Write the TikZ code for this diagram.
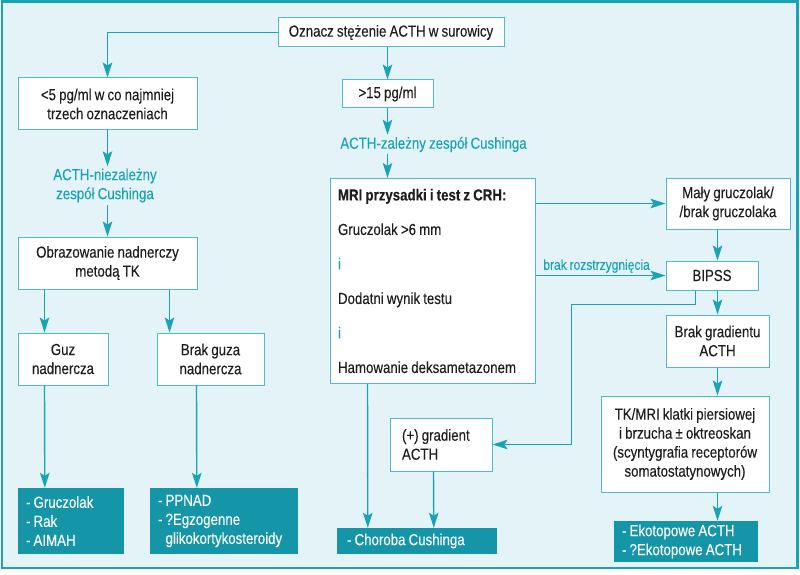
\documentclass[tikz,border=0pt]{standalone}
\usepackage{fontspec}
\setmainfont{Liberation Sans}[FakeStretch=0.83, WordSpace=0.85, FakeBold=0.2]
\usetikzlibrary{arrows.meta}
\definecolor{acthteal}{RGB}{26,163,181}
\definecolor{acthfill}{RGB}{21,150,168}
\definecolor{acthbg}{RGB}{228,243,247}
\definecolor{acthline}{RGB}{80,185,202}
\definecolor{acthtext}{RGB}{30,30,30}

\begin{document}
\begin{tikzpicture}[x=1pt,y=-1pt,>={Stealth[length=15pt,width=9.5pt,inset=3pt]},
    every node/.style={font=\fontsize{16}{19}\selectfont, text=acthtext,
        execute at begin node={\spaceskip=0pt\xspaceskip=0pt}},
    box/.style={draw=acthline, line width=1pt, fill=white, align=center, inner sep=0pt},
    outbox/.style={fill=acthfill, text=white, align=left, inner xsep=8pt, inner ysep=0pt},
    teallabel/.style={text=acthteal, align=center, inner sep=2pt},
    flow/.style={->, draw=acthteal, line width=1.4pt}]
    \useasboundingbox (0,0) rectangle (800,575);
    \fill[white] (0,0) rectangle (800,575);
    \filldraw[fill=acthbg, draw=acthteal, line width=2.5pt] (2,1.5) rectangle (797.5,568);

    \node [box, minimum width=226, minimum height=29] (top) at (391,32.5) {Oznacz stężenie ACTH w surowicy};

    \node [box, minimum width=179, minimum height=52] (low) at (107.5,104) {<5 pg/ml w co najmniej\\trzech oznaczeniach};
    \node [teallabel] (lbl1) at (105,185.5) {ACTH-niezależny\\zespół Cushinga};
    \node [box, minimum width=179, minimum height=52] (obraz) at (107.5,263) {Obrazowanie nadnerczy\\metodą TK};
    \node [box, minimum width=90, minimum height=52] (guz) at (63,359) {Guz\\nadnercza};
    \node [box, minimum width=107, minimum height=52] (brakguza) at (210.5,359) {Brak guza\\nadnercza};
    \node [outbox, text width=90, minimum height=66] (f1) at (71,521) {- Gruczolak\\- Rak\\- AIMAH};
    \node [outbox, text width=132, minimum height=66] (f2) at (224,521) {- PPNAD\\- ?Egzogenne\\\hphantom{-\ }glikokortykosteroidy};

    \node [box, minimum width=91, minimum height=28] (high) at (387.5,94) {>15 pg/ml};
    \node [teallabel] (lbl2) at (433.5,144.5) {ACTH-zależny zespół Cushinga};
    \node [box, align=left, text width=189, inner xsep=8pt, minimum height=205] (mri) at (432.5,281)
        {\textbf{MRI przysadki i test z CRH:}\\[15.5pt]
         Gruczolak >6 mm\\[15.5pt]
         {\color{acthteal}i}\\[15.5pt]
         Dodatni wynik testu\\[15.5pt]
         {\color{acthteal}i}\\[15.5pt]
         Hamowanie deksametazonem};
    \node [box, align=left, text width=78, inner xsep=12pt, minimum height=53] (plus) at (441,444.5) {(+) gradient\\ACTH};
    \node [outbox, text width=140, inner xsep=10pt, minimum height=26] (f3) at (417,541) {- Choroba Cushinga};

    \node [box, minimum width=124, minimum height=51] (maly) at (728,203.5) {Mały gruczolak/\\/brak gruczolaka};
    \node [box, minimum width=92, minimum height=29] (bipss) at (712,275.5) {BIPSS};
    \node [box, minimum width=103, minimum height=52] (brakgrad) at (717.5,341) {Brak gradientu\\ACTH};
    \node [box, minimum width=168, minimum height=96] (tkmri) at (685,444) {TK/MRI klatki piersiowej\\i brzucha ± oktreoskan\\(scyntygrafia receptorów\\somatostatynowych)};
    \node [outbox, text width=128, minimum height=41] (f4) at (686,541.5) {- Ekotopowe ACTH\\- ?Ekotopowe ACTH};

    \draw[flow] (top.west) -| (low.north);
    \draw[flow] (top.south -| high.north) -- (high.north);

    \draw[flow] (low.south) -- (low.south |- lbl1.north);
    \draw[flow] (lbl1.south -| low.south) -- (obraz.north);
    \draw[flow] ([xshift=27pt]obraz.south west) -- ([xshift=27pt]guz.north west);
    \draw[flow] ([xshift=152pt]obraz.south west) -- ([xshift=13pt]brakguza.north west);
    \draw[flow] ([xshift=27pt]guz.south west) -- ([xshift=27pt]f1.north west);
    \draw[flow] ([xshift=40pt]brakguza.south west) -- ([xshift=47pt]f2.north west);

    \draw[flow] (high.south) -- (high.south |- lbl2.north);
    \draw[flow] (lbl2.south -| high.south) -- (mri.north -| high.south);
    \draw[flow] (mri.east |- maly.west) -- (maly.west);
    \draw[flow] (mri.east |- bipss.west) -- node[above, pos=0.47, inner sep=2pt, text=acthteal, font=\fontsize{14.5}{17}\selectfont] {brak rozstrzygnięcia} (bipss.west);
    \draw[flow] ([xshift=38pt]mri.south west) -- ([xshift=31pt]f3.north west);
    \draw[flow] ([xshift=44pt]plus.south west) -- ([xshift=97pt]f3.north west);

    \draw[flow] (maly.south -| brakgrad.north) -- (bipss.north -| brakgrad.north);
    \draw[flow] (bipss.south -| brakgrad.north) -- (brakgrad.north);
    \draw[flow] ([xshift=30pt]bipss.south west) -- ++(0,14) -- ++(-124,0) |- (plus.east);
    \draw[flow] (brakgrad.south) -- (brakgrad.south |- tkmri.north);
    \draw[flow] (tkmri.south -| brakgrad.south) -- (f4.north -| brakgrad.south);

\end{tikzpicture}
\end{document}
